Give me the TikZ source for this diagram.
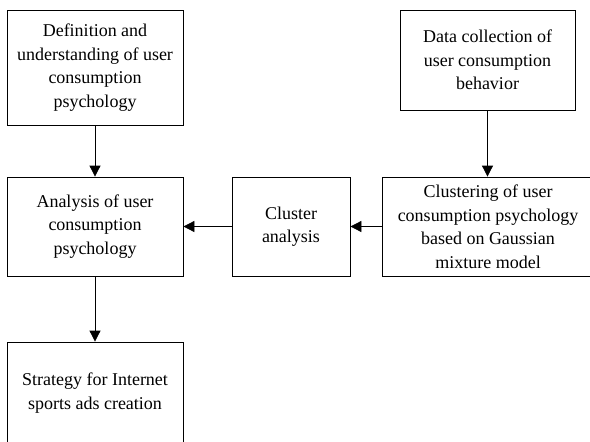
\documentclass[tikz,border=0pt]{standalone}
\usepackage{fontspec}
\setmainfont{Liberation Serif}
\usetikzlibrary{arrows.meta}

\begin{document}
\begin{tikzpicture}[x=1pt,y=-1pt,
    font=\fontsize{18pt}{23.5pt}\selectfont,
    stagebox/.style={draw=black,line width=0.8pt,inner sep=0pt,align=center},
    flow/.style={draw=black,line width=0.8pt,-{Triangle[length=11pt,width=11pt]}}]
        \useasboundingbox (0,0) rectangle (590,442);
        \clip (0,0) rectangle (590,442);
        \node[stagebox,minimum width=176pt,minimum height=115pt] (definition) at (95,67.5)
          {Definition and\\understanding of user\\consumption\\psychology};
        \node[stagebox,minimum width=175pt,minimum height=100pt] (collection) at (487.5,60)
          {Data collection of\\user consumption\\behavior};
        \node[stagebox,minimum width=176pt,minimum height=99pt] (analysis) at (95,226.5)
          {Analysis of user\\consumption\\psychology};
        \node[stagebox,minimum width=118pt,minimum height=99pt] (cluster) at (291,226.5)
          {Cluster\\analysis};
        \node[stagebox,minimum width=212pt,minimum height=99pt] (gaussian) at (488,226.5)
          {Clustering of user\\consumption psychology\\based on Gaussian\\mixture model};
        \node[stagebox,minimum width=176pt,minimum height=102pt] (strategy) at (95,393)
          {Strategy for Internet\\sports ads creation};
        % connectors
        \draw[flow] (definition.south) -- (analysis.north);
        \draw[flow] (collection.south) -- (collection.south |- gaussian.north);
        \draw[flow] (gaussian.west) -- (cluster.east);
        \draw[flow] (cluster.west) -- (analysis.east);
        \draw[flow] (analysis.south) -- (strategy.north);
      \end{tikzpicture}
\end{document}
